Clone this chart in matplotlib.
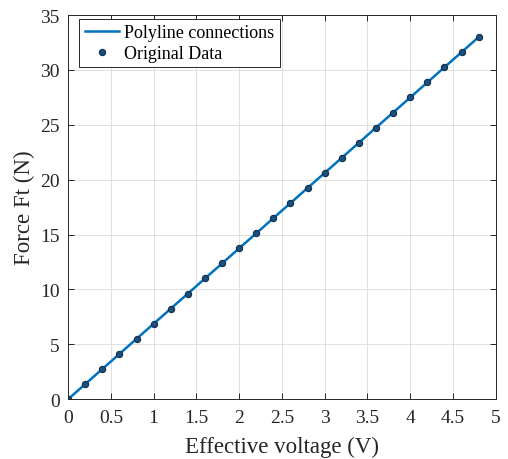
import matplotlib
matplotlib.use('Agg')
import matplotlib.pyplot as plt

plt.rcParams['font.family'] = ['Liberation Serif', 'DejaVu Serif']

voltage = [0.0, 0.2, 0.4, 0.6, 0.8, 1.0, 1.2, 1.4, 1.6, 1.8, 2.0, 2.2, 2.4,
           2.6, 2.8, 3.0, 3.2, 3.4, 3.6, 3.8, 4.0, 4.2, 4.4, 4.6, 4.8]
force = [0.0, 1.37, 2.75, 4.12, 5.5, 6.87, 8.25, 9.62, 11.0, 12.37, 13.75,
         15.12, 16.5, 17.87, 19.25, 20.62, 22.0, 23.37, 24.75, 26.12, 27.5,
         28.87, 30.25, 31.62, 33.0]

fig = plt.figure(figsize=(5.08, 4.6), dpi=100)
ax = fig.add_axes([0.134, 0.130, 0.842, 0.835])

ax.plot(voltage, force, color='#0072BD', linewidth=1.8, label='Polyline connections')
ax.plot(voltage, force, linestyle='none', marker='o', markersize=4.5,
        markerfacecolor='#1b4f7e', markeredgecolor='#0d2f50', markeredgewidth=0.8,
        label='Original Data')

ax.set_xlim(0, 5)
ax.set_ylim(0, 35)
ax.set_xticks([0, 0.5, 1, 1.5, 2, 2.5, 3, 3.5, 4, 4.5, 5])
ax.set_xticklabels(['0', '0.5', '1', '1.5', '2', '2.5', '3', '3.5', '4', '4.5', '5'])
ax.set_yticks(range(0, 36, 5))
ax.grid(True, color='#e0e0e0', linewidth=0.7)
ax.set_axisbelow(True)
ax.tick_params(direction='in', top=True, right=True, labelsize=14,
               colors='#262626', length=4, width=0.7)
ax.tick_params(axis='x', pad=7)
ax.tick_params(axis='y', pad=6)
for s in ax.spines.values():
    s.set_color('#262626')
    s.set_linewidth(0.7)

ax.set_xlabel('Effective voltage (V)', fontsize=16.5, color='#262626', labelpad=7)
ax.set_ylabel('Force Ft (N)', fontsize=16.5, color='#262626', labelpad=4)

leg = ax.legend(loc='upper left', bbox_to_anchor=(0.026, 0.99), fontsize=13,
                fancybox=False, framealpha=1, edgecolor='#262626',
                borderpad=0.3, labelspacing=0.2, handlelength=1.9,
                handletextpad=0.3, borderaxespad=0)
leg.get_frame().set_linewidth(0.7)

fig.savefig('out.png', dpi=100)
